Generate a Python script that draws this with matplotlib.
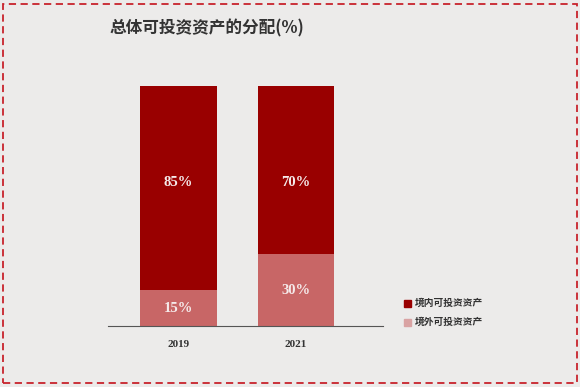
import matplotlib
matplotlib.use("Agg")
import matplotlib.pyplot as plt
from matplotlib.patches import Rectangle

years = ["2019", "2021"]
domestic = [85, 70]
overseas = [15, 30]
series_names = ["境内可投资资产", "境外可投资资产"]
title = "总体可投资资产的分配(%)"

plt.rcParams['font.family'] = ['Liberation Serif', 'Noto Sans CJK SC']

W, H = 580, 387
fig = plt.figure(figsize=(W/100, H/100), dpi=100)
bg = "#ecebea"
fig.patch.set_facecolor(bg)

# dashed border
border = Rectangle((3/W, 4/H), 574/W, 379/H, transform=fig.transFigure,
                   fill=False, edgecolor="#c8232c", linestyle=(0, (4, 2.5)), linewidth=1.3)
fig.add_artist(border)

ax = fig.add_axes([108/W, (H-326)/H, (383-108)/W, 240/H])
ax.set_facecolor(bg)
x = range(len(years))
c_dark = "#990000"
c_light = "#c86666"
ax.bar(x, overseas, width=0.65, color=c_light)
ax.bar(x, domestic, bottom=overseas, width=0.65, color=c_dark)
for i in x:
    ax.text(i, overseas[i]/2, f"{overseas[i]}%", ha="center", va="center",
            color="#f5eaea", fontsize=10.5, fontweight="bold")
    ax.text(i, 60, f"{domestic[i]}%", ha="center", va="center",
            color="#f5eaea", fontsize=10.5, fontweight="bold")
ax.set_xlim(-0.6, 1.74)
ax.set_ylim(0, 100)
for s in ["top", "right", "left"]:
    ax.spines[s].set_visible(False)
ax.spines["bottom"].set_color("#555555")
ax.spines["bottom"].set_linewidth(0.8)
ax.set_yticks([])
ax.set_xticks(list(x))
ax.set_xticklabels(years, fontsize=8, fontweight="bold", color="#333333")
ax.tick_params(axis="x", length=0, pad=10)

fig.text(110/W, 1 - 28/H, title, fontsize=12, fontweight="heavy", color="#333333",
         va="center", ha="left", family=['Noto Sans CJK SC'])

leg_colors = [c_dark, "#d9a3a3"]
for j, (name, col) in enumerate(zip(series_names, leg_colors)):
    yy = 303 + j*19
    fig.add_artist(Rectangle((404/W, 1 - (yy+3.5)/H), 7/W, 7/H, transform=fig.transFigure,
                             color=col))
    fig.text(415/W, 1 - yy/H, name, fontsize=7, color="#333333", va="center", ha="left",
             family=['Noto Sans CJK SC'], fontweight="bold")

fig.savefig("out.png", dpi=100, facecolor=bg)
